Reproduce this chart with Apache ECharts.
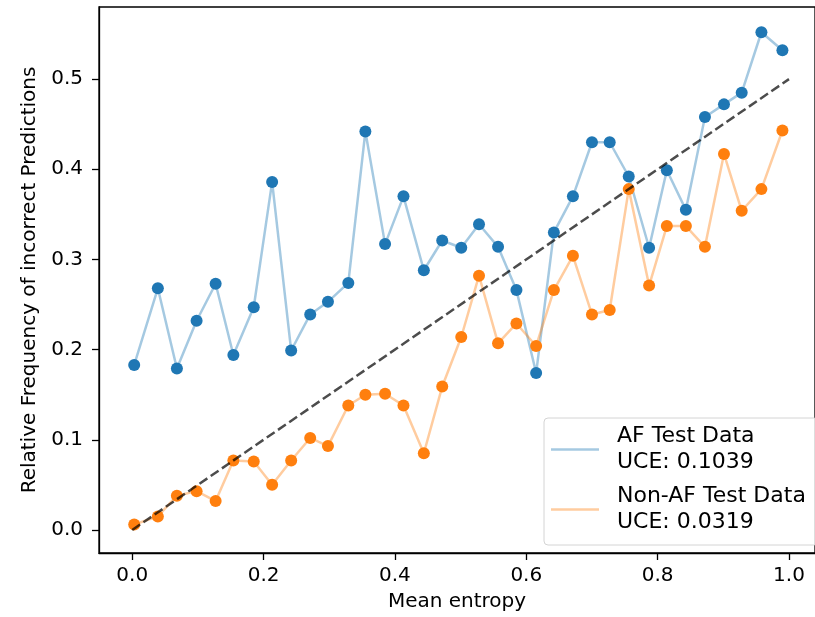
<!DOCTYPE html>
<html>
<head>
<meta charset="utf-8">
<script src="https://cdn.jsdelivr.net/npm/echarts@6/dist/echarts.min.js"></script>
<style>
  html, body { margin: 0; padding: 0; background: #fff; }
  #chart { width: 815px; height: 617px; }
</style>
</head>
<body>
<div id="chart"></div>
<script>
// mean entropy per bin (shared by both test sets)
const binEntropy = [
  0.003, 0.039, 0.068, 0.098, 0.127, 0.154, 0.185, 0.213, 0.242, 0.271,
  0.298, 0.329, 0.355, 0.385, 0.413, 0.444, 0.472, 0.501, 0.528, 0.557,
  0.585, 0.615, 0.642, 0.671, 0.700, 0.727, 0.756, 0.787, 0.814, 0.843,
  0.872, 0.901, 0.928, 0.958, 0.990
];
// relative frequency of incorrect predictions
const afErrors = [
  0.183, 0.268, 0.179, 0.232, 0.273, 0.194, 0.247, 0.386, 0.199, 0.239,
  0.253, 0.274, 0.442, 0.317, 0.370, 0.288, 0.321, 0.313, 0.339, 0.314,
  0.266, 0.174, 0.330, 0.370, 0.430, 0.430, 0.392, 0.313, 0.399, 0.355,
  0.458, 0.472, 0.485, 0.552, 0.532
];
const nonAfErrors = [
  0.006, 0.015, 0.038, 0.043, 0.032, 0.077, 0.076, 0.050, 0.077, 0.102,
  0.093, 0.138, 0.150, 0.151, 0.138, 0.085, 0.159, 0.214, 0.282, 0.207,
  0.229, 0.204, 0.266, 0.304, 0.239, 0.244, 0.378, 0.271, 0.337, 0.337,
  0.314, 0.417, 0.354, 0.378, 0.443
];
const seriesNames = ['AF Test Data', 'Non-AF Test Data'];
const uceValues = [0.1039, 0.0319];
// perfect calibration reference line
const refLineX = [0, 1];
const refLineY = [0, 0.5];
const xTicks = [0, 0.2, 0.4, 0.6, 0.8, 1.0];
const yTicks = [0, 0.1, 0.2, 0.3, 0.4, 0.5];

const font = 'DejaVu Sans';
const fontSize = 20;
const blue = '#1f77b4';
const orange = '#ff7f0e';

const zip = (xs, ys) => xs.map((x, i) => [x, ys[i]]);

const chart = echarts.init(document.getElementById('chart'));

const axisBase = {
  type: 'value',
  nameLocation: 'middle',
  nameTextStyle: { fontFamily: font, fontSize: fontSize, color: '#000' },
  axisLine: { show: true, onZero: false, lineStyle: { color: '#000', width: 1.3 } },
  splitLine: { show: false }
};

const option = {
  animation: false,
  backgroundColor: '#fff',
  grid: {
    left: 99,
    right: -8,
    top: 7,
    bottom: 64,
    show: true,
    borderColor: '#000',
    borderWidth: 1.3,
    backgroundColor: 'transparent'
  },
  xAxis: {
    ...axisBase,
    min: -0.0506,
    max: 1.0396,
    name: 'Mean entropy',
    nameGap: 39,
    axisTick: { show: true, customValues: xTicks, length: 7, lineStyle: { color: '#000', width: 1.3 } },
    axisLabel: {
      customValues: xTicks,
      margin: 13,
      fontFamily: font,
      fontSize: fontSize,
      color: '#000',
      formatter: (v) => v.toFixed(1)
    }
  },
  yAxis: {
    ...axisBase,
    min: -0.0256,
    max: 0.58,
    name: 'Relative Frequency of incorrect Predictions',
    nameGap: 56,
    axisTick: { show: true, customValues: yTicks, length: 7, lineStyle: { color: '#000', width: 1.3 } },
    axisLabel: {
      customValues: yTicks,
      margin: 16,
      fontFamily: font,
      fontSize: fontSize,
      color: '#000',
      formatter: (v) => v.toFixed(1)
    }
  },
  legend: {
    left: 544,
    top: 418,
    orient: 'vertical',
    data: [
      { name: seriesNames[0], icon: 'rect', itemStyle: { color: 'rgba(31,119,180,0.4)' } },
      { name: seriesNames[1], icon: 'rect', itemStyle: { color: 'rgba(255,127,14,0.4)' } }
    ],
    itemWidth: 48,
    itemHeight: 2.5,
    itemGap: 9,
    padding: [6, 12, 10, 7],
    borderColor: '#d4d4d4',
    borderWidth: 1,
    borderRadius: 4,
    backgroundColor: 'rgba(255,255,255,0.8)',
    textStyle: {
      fontFamily: font,
      fontSize: 22,
      lineHeight: 25.5,
      color: '#000',
      padding: [0, 0, 0, 13]
    },
    formatter: (name) => name + '\nUCE: ' + uceValues[seriesNames.indexOf(name)].toFixed(4)
  },
  series: [
    {
      name: seriesNames[0],
      type: 'line',
      data: zip(binEntropy, afErrors),
      symbol: 'circle',
      symbolSize: 12,
      itemStyle: { color: blue },
      lineStyle: { color: 'rgba(31,119,180,0.4)', width: 2.5 },
      z: 2
    },
    {
      name: seriesNames[1],
      type: 'line',
      data: zip(binEntropy, nonAfErrors),
      symbol: 'circle',
      symbolSize: 12,
      itemStyle: { color: orange },
      lineStyle: { color: 'rgba(255,127,14,0.4)', width: 2.5 },
      z: 3
    },
    {
      type: 'line',
      data: zip(refLineX, refLineY),
      symbol: 'none',
      lineStyle: { color: 'rgba(0,0,0,0.7)', width: 2.5, type: [9.5, 4.1] },
      z: 4,
      silent: true
    }
  ]
};

chart.setOption(option);
</script>
</body>
</html>
